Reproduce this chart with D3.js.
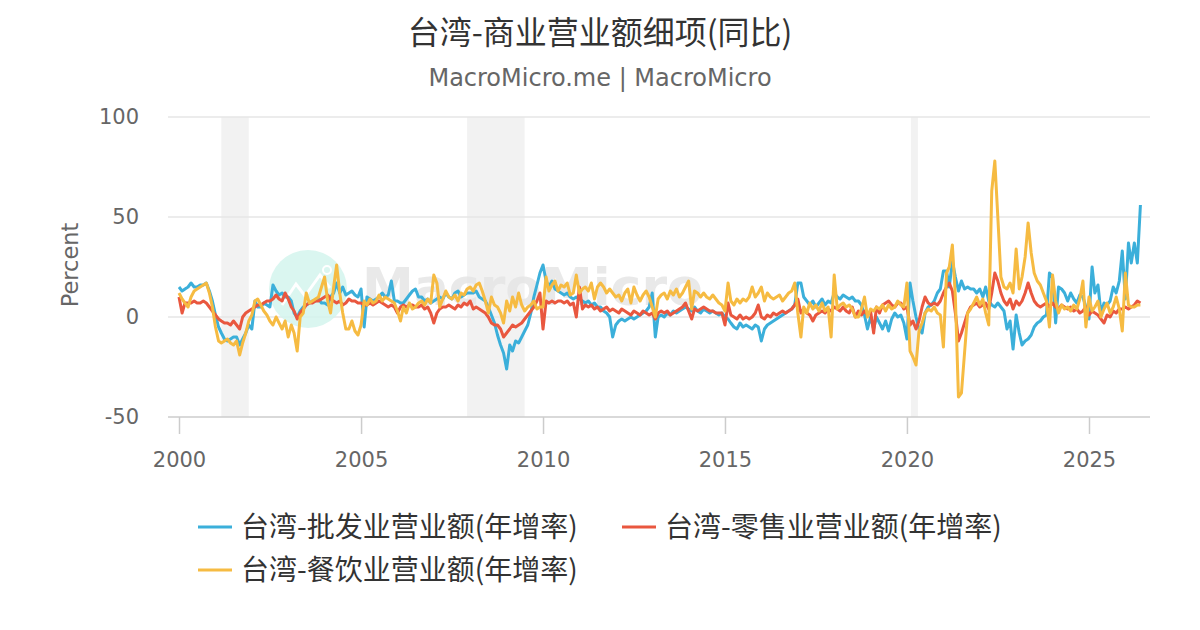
<!DOCTYPE html>
<html><head><meta charset="utf-8">
<script src="https://cdn.jsdelivr.net/npm/d3@7/dist/d3.min.js"></script>
<style>body{margin:0;background:#fff;}svg{display:block}</style>
</head><body>
<svg id="chart" width="1200" height="630"></svg>
<script>
// ---- Data (monthly YoY %, Jan 2000 onward) ----
const startDate = "2000-01-01";
const wholesale = [
  15,13,14,15,17,15,15,16,16,17,13,8,        // 2000
  1,-5,-8,-11,-12,-11,-10,-10,-14,-11,-8,-4,  // 2001
  -6,8,5,5,7,6,5,16,13,11,12,10,             // 2002
  10,8,2,0,3,5,6,7,8,8,9,7,                  // 2003
  7,6,10,12,17,12,15,11,12,13,11,10,         // 2004
  14,-5,10,9,8,9,10,12,10,11,18,8,           // 2005
  8,7,7,9,11,13,14,10,10,8,9,7,              // 2006
  8,9,10,9,12,10,9,12,13,10,11,12,           // 2007
  12,12,13,10,9,8,5,1,-3,-9,-14,-18,         // 2008
  -26,-14,-17,-12,-13,-10,-7,-4,2,10,16,22,  // 2009
  26,18,15,18,14,13,12,11,12,10,9,10,        // 2010
  9,8,7,8,6,7,5,5,3,2,0,-10,                 // 2011
  -4,-2,-1,-2,-1,0,-1,0,1,2,3,5,             // 2012
  12,-10,0,1,0,2,1,3,2,3,4,5,                // 2013
  4,3,5,3,2,4,3,2,3,2,1,2,                   // 2014
  0,-1,-3,-5,-6,-3,-5,-4,-5,-6,-4,-5,        // 2015
  -12,-6,-4,-3,-2,-1,0,1,2,3,4,6,            // 2016
  17,17,10,8,6,8,5,7,9,6,8,7,                // 2017
  12,10,9,11,10,9,10,8,8,6,1,-6,             // 2018
  0,-6,0,-3,-6,-2,-7,-1,2,0,1,-3,            // 2019
  -11,17,8,0,-6,-8,2,5,6,8,12,14,            // 2020
  23,23,15,28,20,13,18,14,15,14,14,12,       // 2021
  14,10,15,8,6,5,7,5,3,-6,-2,-16,            // 2022
  1,-8,-14,-12,-11,-9,-5,-3,-2,0,1,22,       // 2023
  20,-3,15,14,12,8,12,9,7,11,10,5,           // 2024
  -1,25,12,16,2,7,6,8,15,12,18,33,           // 2025
  9,37,27,37,27,56                           // 2026
];
const retail = [
  10,2,7,7,7,8,7,7,8,7,5,3,
  1,-1,-2,-3,-3,-4,-2,-4,-6,0,2,3,
  4,5,6,6,7,8,8,9,11,9,8,12,
  9,5,3,-1,2,4,6,7,7,8,8,9,
  10,11,9,8,7,8,6,7,9,8,8,7,
  7,6,6,7,6,7,8,7,6,5,6,5,
  2,5,6,5,6,6,5,5,6,4,5,2,
  -3,2,4,5,5,6,5,4,6,5,7,6,
  8,4,5,4,3,2,0,-3,-4,-4,-6,-10,
  -8,-6,-4,-5,-4,-3,-1,1,3,5,8,12,
  -6,8,7,8,7,8,8,7,8,6,7,0,
  15,4,6,5,6,4,5,3,4,5,3,4,
  3,2,4,3,2,1,3,2,1,3,2,1,
  2,-1,2,3,2,3,1,2,3,4,5,7,
  3,-1,4,3,4,5,4,3,3,2,2,2,
  -4,7,1,0,-1,1,-1,0,-1,0,2,6,
  0,-1,1,0,2,1,2,3,2,3,4,6,
  9,2,4,2,1,-2,1,2,3,2,4,3,
  5,4,3,5,3,2,5,0,3,1,3,1,
  3,-8,5,2,6,7,8,6,5,7,7,4,
  5,-4,-2,-6,-2,5,10,7,6,7,6,8,
  12,15,17,13,2,-12,-8,-3,2,5,6,7,
  5,6,7,4,12,22,18,12,8,6,9,4,
  8,6,8,12,17,12,8,6,5,6,7,5,
  7,5,4,6,5,4,5,3,4,2,3,5,
  1,3,2,1,-1,-3,1,0,3,2,4,4,
  5,4,5,6,8,7
];
const foodService = [
  12,9,7,5,10,13,14,15,16,17,12,5,
  -5,-12,-13,-12,-11,-13,-14,-12,-19,-13,-8,-2,
  1,8,9,6,3,1,-2,-4,0,-3,-6,-2,
  -10,-4,-8,-17,0,2,12,7,8,9,10,15,
  20,8,2,15,26,12,2,-6,-6,-2,-7,-9,
  -4,8,6,9,7,8,11,8,10,9,8,7,
  3,-2,5,2,7,4,5,7,8,6,9,7,
  21,17,5,9,13,10,9,11,8,12,11,14,
  15,13,16,17,13,8,2,10,6,5,2,-3,
  8,3,10,5,12,6,3,5,6,8,4,5,
  5,20,13,16,18,13,16,15,17,11,12,21,
  12,14,15,13,17,9,15,17,15,12,14,12,
  10,11,8,12,14,7,15,11,8,11,13,10,
  5,0,9,11,12,9,13,11,14,10,12,15,
  18,4,13,12,10,12,10,9,11,9,7,6,
  3,17,8,6,9,7,9,8,10,15,10,12,
  15,8,12,10,9,10,11,8,10,12,13,17,
  2,-10,5,2,7,4,6,3,7,3,5,-10,
  21,4,6,7,5,6,4,0,0,4,10,0,
  4,3,5,4,6,3,6,4,5,8,6,5,
  17,-17,-20,-24,-7,-3,2,4,3,5,2,1,
  -15,22,25,36,10,-40,-38,-18,2,4,7,10,
  6,9,2,-4,63,78,50,20,15,14,17,12,
  34,14,20,30,47,32,22,18,16,12,8,-5,
  21,8,2,6,4,5,3,6,4,9,18,-5,
  10,3,5,8,0,4,7,2,5,10,4,-7,
  22,6,5,5,6,6
];
const seriesNames = ["台湾-批发业营业额(年增率)", "台湾-零售业营业额(年增率)", "台湾-餐饮业营业额(年增率)"];
const seriesColors = ["#3BAFDA", "#E9573F", "#F6BB42"];
const recessions = [["2001-03-01", "2001-12-01"], ["2007-12-01", "2009-06-30"], ["2020-02-10", "2020-04-20"]];
const xTickYears = [2000, 2005, 2010, 2015, 2020, 2025];
const yTicks = [-50, 0, 50, 100];
const titleText = "台湾-商业营业额细项(同比)";
const subtitleText = "MacroMicro.me | MacroMicro";
const yAxisTitle = "Percent";

// ---- Layout ----
const plotLeft = 168, plotRight = 1150, plotTop = 117, plotBottom = 417;
const svg = d3.select("#chart");
const cjk = "'Noto Sans CJK SC','Noto Sans',sans-serif";
const latin = "'DejaVu Sans','Noto Sans',sans-serif";

const parse = d3.timeParse("%Y-%m-%d");
const t0 = parse(startDate);
const x = d3.scaleTime().domain([new Date(2000,0,1), new Date(2025,0,1)]).range([179, 1089]);
const y = d3.scaleLinear().domain([-50, 100]).range([plotBottom, plotTop]);

const dates = d3.range(wholesale.length).map(i => d3.timeMonth.offset(t0, i));

// recession bands
svg.append("g").selectAll("rect").data(recessions).join("rect")
  .attr("x", d => x(parse(d[0])))
  .attr("width", d => x(parse(d[1])) - x(parse(d[0])))
  .attr("y", plotTop).attr("height", plotBottom - plotTop)
  .attr("fill", "#f2f2f2");

// grid
svg.append("g").selectAll("line").data(yTicks.filter(v => v !== -50)).join("line")
  .attr("x1", plotLeft).attr("x2", plotRight)
  .attr("y1", d => y(d)).attr("y2", d => y(d))
  .attr("stroke", "#e6e6e6").attr("stroke-width", 1.5);

// y labels
svg.append("g").selectAll("text").data(yTicks).join("text")
  .attr("x", 139).attr("y", d => y(d)).attr("dy", "0.35em")
  .attr("text-anchor", "end").attr("fill", "#666")
  .style("font-family", latin).style("font-size", "21px")
  .text(d => d);

svg.append("text")
  .attr("transform", "translate(78," + y(26) + ") rotate(-90)")
  .attr("text-anchor", "middle").attr("fill", "#666")
  .style("font-family", latin).style("font-size", "22.5px")
  .text(yAxisTitle);

// x axis
const xAxis = d3.axisBottom(x)
  .tickValues(xTickYears.map(yv => new Date(yv, 0, 1)))
  .tickFormat(d3.timeFormat("%Y")).tickSizeOuter(0).tickSize(17).tickPadding(18);
const gx = svg.append("g").attr("transform", "translate(0," + plotBottom + ")").call(xAxis);
gx.select(".domain").remove();
gx.selectAll(".tick line").attr("stroke", "#ccc").attr("stroke-width", 1.5);
gx.selectAll(".tick text").attr("fill", "#666").style("font-family", latin).style("font-size", "21px");
svg.append("line").attr("x1", plotLeft).attr("x2", plotRight)
  .attr("y1", plotBottom).attr("y2", plotBottom).attr("stroke", "#ccc").attr("stroke-width", 1.5);

// watermark
const wm = svg.append("g").attr("opacity", 0.85);
wm.append("circle").attr("cx", 308).attr("cy", 289).attr("r", 39).attr("fill", "#d4f5ee");
wm.append("path").attr("d", "M282,305 L296,284 L305,296 L320,275 L330,288")
  .attr("fill", "none").attr("stroke", "#fff").attr("stroke-width", 3);
wm.append("circle").attr("cx", 327).attr("cy", 270).attr("r", 4).attr("fill", "none").attr("stroke", "#fff").attr("stroke-width", 2);
wm.append("text").attr("x", 362).attr("y", 305)
  .attr("fill", "#e6e6e6").style("font-family", latin).style("font-size", "52px").style("font-weight", "bold")
  .text("MacroMicro");

// lines
const allSeries = [wholesale, retail, foodService];
const line = d3.line().x((d, i) => x(dates[i])).y(d => y(d)).curve(d3.curveLinear);
svg.append("g").selectAll("path").data(allSeries).join("path")
  .attr("d", d => line(d))
  .attr("fill", "none")
  .attr("stroke", (d, i) => seriesColors[i])
  .attr("stroke-width", 3)
  .attr("stroke-linejoin", "round");

// title
svg.append("text").attr("x", 600).attr("y", 44).attr("text-anchor", "middle")
  .attr("fill", "#333").style("font-family", cjk).style("font-size", "32px")
  .text(titleText);
svg.append("text").attr("x", 600).attr("y", 86).attr("text-anchor", "middle")
  .attr("fill", "#666").style("font-family", latin).style("font-size", "24px")
  .text(subtitleText);

// legend
const legendPos = [[198, 527], [622, 527], [198, 570]];
const lg = svg.append("g").selectAll("g").data(seriesNames).join("g")
  .attr("transform", (d, i) => "translate(" + legendPos[i][0] + "," + legendPos[i][1] + ")");
lg.append("line").attr("x1", 0).attr("x2", 34).attr("y1", 0).attr("y2", 0)
  .attr("stroke", (d, i) => seriesColors[i]).attr("stroke-width", 3);
lg.append("text").attr("x", 43).attr("y", 0).attr("dy", "0.35em")
  .attr("fill", "#333").style("font-family", cjk).style("font-size", "28px")
  .text(d => d);
</script>
</body></html>
